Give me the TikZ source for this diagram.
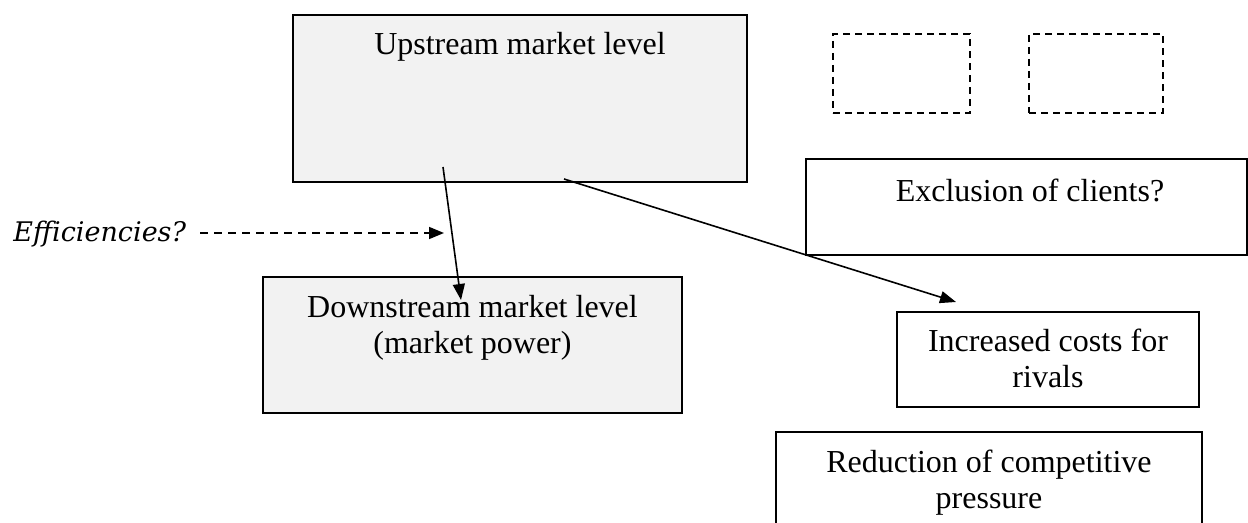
\documentclass[tikz,border=0pt]{standalone}
\usepackage{fontspec}
\setmainfont{Liberation Serif}
\newfontfamily\effont{DejaVu Serif}
\usetikzlibrary{arrows.meta}

\definecolor{boxgray}{HTML}{F2F2F2}

\tikzset{
  box/.style={draw=black, line width=1pt, rectangle, inner sep=0pt},
  grey/.style={box, fill=boxgray},
  ghost/.style={draw=black, line width=1pt, rectangle, inner sep=0pt,
    dash pattern=on 3.5pt off 2.5pt},
  % base anchor of a multi-line label sits on its last line
  txt/.style={inner sep=0pt, align=center, anchor=base,
    font=\fontsize{16pt}{18pt}\selectfont},
  link/.style={line width=0.8pt, -{Triangle[length=8pt,width=6pt]}},
  hint/.style={line width=0.8pt, dash pattern=on 4pt off 3pt,
    -{Triangle[length=7.5pt,width=6pt]}}
}

\begin{document}
\begin{tikzpicture}[x=0.5pt, y=-0.5pt]
  \clip (0,0) rectangle (1248,523);
  \fill[white] (0,0) rectangle (1248,523);

  % market levels
  \node[grey, minimum width=227pt, minimum height=83.5pt] (up) at (520,98.5) {};
  \node[txt] (uptext) at (520,55) {Upstream market level};

  \node[grey, minimum width=209.5pt, minimum height=68pt] (down) at (472.5,345) {};
  \node[txt] (downtext) at (472.5,354) {Downstream market level\\(market power)};

  % empty placeholders
  \node[ghost, minimum width=68.5pt, minimum height=39.5pt] (ph1) at (901.5,73.5) {};
  \node[ghost, minimum width=67pt, minimum height=39.5pt] (ph2) at (1096,73.5) {};

  % effects
  \node[box, minimum width=220.5pt, minimum height=48pt] (excl) at (1026.5,207) {};
  \node[txt] (excltext) at (1030,202) {Exclusion of clients?};

  \node[box, minimum width=151pt, minimum height=47.5pt] (costs) at (1048,359.5) {};
  \node[txt] (coststext) at (1048,388) {Increased costs for\\rivals};

  \node[box, minimum width=213pt, minimum height=56.5pt] (red) at (989,488.5) {};
  \node[txt] (redtext) at (989,509) {Reduction of competitive\\pressure};

  % efficiencies
  \node[inner ysep=0pt, inner xsep=7pt, anchor=base west,
    font=\effont\itshape\fontsize{13.5pt}{16pt}\selectfont] (eff) at (-1,242) {Efficiencies?};

  % connector end points
  \coordinate (vs) at (443,167);
  \coordinate (ve) at (461,300);
  \coordinate (ds) at (564,179);
  \coordinate (de) at (956,302);
  \coordinate (effend) at (444,233);

  \draw[link] (vs) -- (ve);
  \draw[link] (ds) -- (de);
  \draw[hint] (eff.east |- effend) -- (effend);
\end{tikzpicture}
\end{document}
